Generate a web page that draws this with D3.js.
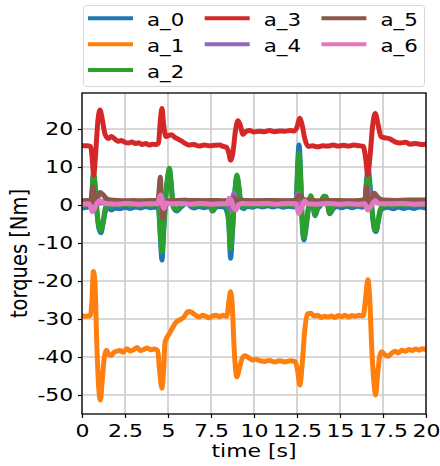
<!DOCTYPE html>
<html>
<head>
<meta charset="utf-8">
<script src="https://cdn.jsdelivr.net/npm/d3@7"></script>
<style>
    body { margin: 0; background: #fff; }
    svg { display: block; font-family: "DejaVu Sans", sans-serif; }
</style>
</head>
<body>
<svg id="chart" width="440" height="466"></svg>
<script>
/**
 * Data: [time s, torque Nm].
 */
const seriesNames = ['a_0', 'a_1', 'a_2', 'a_3', 'a_4', 'a_5', 'a_6'];
const seriesColors = ['#1f77b4', '#ff7f0e', '#2ca02c', '#d62728', '#9467bd', '#8c564b', '#e377c2'];
const xTicks = [0, 2.5, 5, 7.5, 10, 12.5, 15, 17.5, 20];
const yTicks = [-50, -40, -30, -20, -10, 0, 10, 20];

const a0 = [[0,-0.8],[0.3,-0.6],[0.5,-0.4],[0.58,3],[0.66,8],[0.75,5.5],[0.88,-2.5],[1.0,-6.5],[1.1,-7.3],[1.2,-5.5],[1.35,-1.8],[1.55,-0.5],[1.7,-1.3],[1.9,-0.8],[2.2,-1],[2.5,-0.6],[2.8,-0.9],[3.1,-0.5],[3.4,-0.8],[3.7,-0.4],[4.0,-0.7],[4.3,-0.5],[4.45,-1],[4.55,-8],[4.65,-14.5],[4.75,-7],[4.88,2.5],[5.0,7.8],[5.08,9.5],[5.18,5.5],[5.3,-0.5],[5.5,-1.6],[5.7,-0.8],[5.9,0],[6.1,0.6],[6.3,-0.3],[6.5,-0.8],[6.8,-0.4],[7.1,-0.7],[7.4,-0.3],[7.6,-1.6],[7.8,-0.5],[8.0,-0.4],[8.3,-0.6],[8.52,-4],[8.64,-14],[8.75,-7],[8.88,2.5],[9.0,7.5],[9.12,4.5],[9.25,-0.5],[9.4,-1],[9.6,-0.3],[9.9,-0.6],[10.2,-0.2],[10.5,-0.5],[10.8,-0.2],[11.1,-0.5],[11.4,-0.2],[11.7,-0.6],[12.0,-0.3],[12.3,-0.5],[12.45,0.5],[12.55,12],[12.62,15.8],[12.72,7],[12.8,-4.5],[12.9,-9.2],[13.0,-7],[13.15,-1.5],[13.3,2],[13.42,0],[13.55,-2.8],[13.7,-1],[13.85,-0.2],[14.05,1.8],[14.2,1.6],[14.4,-2.3],[14.6,-1],[14.8,-0.4],[15.1,-0.7],[15.4,-0.3],[15.7,-0.7],[16.0,-0.3],[16.3,-0.6],[16.45,1],[16.55,7],[16.65,9.3],[16.75,5],[16.88,-2.5],[17.0,-6.5],[17.1,-7],[17.22,-4.5],[17.35,-1.5],[17.5,-0.9],[17.8,-0.6],[18.1,-1],[18.4,-0.5],[18.7,-0.9],[19.0,-0.6],[19.3,-0.9],[19.6,-0.5],[20,-0.8]];

const a1 = [[0,-29.2],[0.3,-29.3],[0.5,-29],[0.58,-25],[0.66,-17.5],[0.75,-20],[0.85,-35],[0.97,-48],[1.07,-51.3],[1.18,-46],[1.3,-40],[1.42,-38.2],[1.55,-39.3],[1.7,-39.6],[1.85,-38.8],[2.0,-38.5],[2.2,-38.3],[2.4,-38.7],[2.6,-37.8],[2.8,-38.4],[3.0,-38.1],[3.2,-37.5],[3.4,-38.3],[3.6,-38],[3.8,-37.6],[4.0,-38.1],[4.2,-37.9],[4.4,-38.3],[4.52,-44],[4.65,-48.2],[4.75,-43],[4.83,-36],[5.1,-33.7],[5.3,-32],[5.5,-30.7],[5.7,-30.2],[5.9,-29.6],[6.18,-28],[6.4,-28.3],[6.6,-29],[6.8,-29.5],[7.0,-29],[7.2,-29.3],[7.4,-29.7],[7.6,-29.2],[7.8,-29],[8.0,-29.4],[8.2,-29],[8.42,-29.3],[8.55,-25],[8.64,-22.8],[8.73,-26],[8.85,-38],[9.0,-45.2],[9.15,-43],[9.3,-40.5],[9.48,-39.7],[9.7,-40.2],[9.9,-40.8],[10.1,-40.6],[10.3,-40.9],[10.6,-41.2],[10.9,-40.9],[11.2,-41.3],[11.5,-41],[11.8,-41.3],[12.1,-41],[12.4,-41.2],[12.55,-44],[12.67,-47.4],[12.8,-42],[12.95,-33],[13.1,-28.7],[13.3,-28.5],[13.5,-29.2],[13.7,-29],[13.9,-29.6],[14.1,-29.3],[14.3,-29.5],[14.5,-29.2],[14.7,-29.6],[14.9,-29.1],[15.1,-29.4],[15.3,-29],[15.5,-29.5],[15.7,-29.1],[15.9,-29.3],[16.1,-29],[16.35,-29.2],[16.5,-24],[16.62,-19.7],[16.72,-24],[16.85,-38],[17.0,-48],[17.07,-50],[17.18,-45],[17.3,-40],[17.42,-38.6],[17.6,-39.4],[17.8,-39.8],[18.0,-39],[18.2,-38.5],[18.4,-38.9],[18.6,-38.2],[18.8,-38.5],[19.0,-38],[19.2,-38.3],[19.4,-37.9],[19.6,-38.2],[19.8,-37.8],[20,-38]];

const a2 = [[0,-0.3],[0.3,0],[0.5,0.2],[0.58,3],[0.66,8.5],[0.75,6],[0.88,-2],[1.0,-6],[1.1,-6.7],[1.2,-5],[1.35,-1],[1.5,0.8],[1.7,-0.5],[1.9,0.3],[2.2,-0.2],[2.5,0.3],[2.8,-0.2],[3.1,0.2],[3.4,-0.3],[3.7,0.2],[4.0,-0.2],[4.3,0.2],[4.45,-0.5],[4.55,-7],[4.65,-12.3],[4.75,-6],[4.88,3],[5.0,8],[5.08,9.7],[5.18,6],[5.3,0],[5.5,-1.3],[5.7,-0.5],[5.9,0.5],[6.1,1.2],[6.3,0.3],[6.5,-0.3],[6.8,0.2],[7.1,-0.3],[7.4,0.2],[7.6,-1.5],[7.8,0],[8.1,0.2],[8.4,-0.2],[8.52,-3],[8.64,-11.4],[8.75,-6],[8.88,3],[9.0,7.9],[9.12,5],[9.25,0],[9.4,-0.6],[9.6,0.3],[9.9,-0.3],[10.2,0.2],[10.5,-0.3],[10.8,0.2],[11.1,-0.2],[11.4,0.2],[11.7,-0.3],[12.0,0.2],[12.3,-0.2],[12.45,0.5],[12.55,10],[12.62,13.6],[12.72,6],[12.8,-4],[12.9,-8.5],[13.0,-6],[13.15,-1],[13.3,2.4],[13.42,0.5],[13.55,-2.6],[13.7,-0.5],[13.85,0.3],[14.05,2.3],[14.2,2.2],[14.4,-2],[14.6,-0.5],[14.8,0.3],[15.1,-0.2],[15.4,0.2],[15.7,-0.3],[16.0,0.2],[16.3,-0.2],[16.45,1],[16.55,6],[16.65,7.5],[16.75,4],[16.88,-2],[17.0,-6],[17.1,-6.6],[17.22,-4],[17.35,-1],[17.5,-0.5],[17.8,0.2],[18.1,-0.3],[18.4,0.2],[18.7,-0.2],[19.0,0.3],[19.3,-0.2],[19.6,0.2],[20,0]];

const a3 = [[0,15.6],[0.3,15.6],[0.5,15.4],[0.58,13],[0.68,7.9],[0.8,14],[0.92,22],[1.05,25],[1.18,22.5],[1.35,18.5],[1.55,17.5],[1.7,18],[1.9,17.4],[2.1,16.8],[2.3,17],[2.5,16.5],[2.7,16.3],[2.9,16.6],[3.1,16.2],[3.3,16.4],[3.5,15.9],[3.7,16.2],[3.9,15.8],[4.1,16],[4.3,15.9],[4.45,16.3],[4.55,22],[4.65,25.4],[4.75,21],[4.88,18],[5.0,18.2],[5.2,18.5],[5.4,17.8],[5.6,17.3],[5.8,16.8],[6.0,16.2],[6.2,15.8],[6.5,15.9],[6.8,15.5],[7.1,15.8],[7.4,15.6],[7.7,15.7],[8.0,15.8],[8.2,15.4],[8.4,15.2],[8.52,14],[8.64,11.8],[8.78,14],[8.92,19.5],[9.07,22.2],[9.2,21],[9.36,18.6],[9.55,19.4],[9.75,19.6],[10.0,19.2],[10.3,19.4],[10.6,19.3],[10.9,19.6],[11.2,19.3],[11.5,19.5],[11.8,19.4],[12.1,19.6],[12.35,19.5],[12.5,20.5],[12.65,22.8],[12.8,21],[12.95,17.5],[13.15,15.4],[13.4,15.6],[13.7,15.3],[14.0,15.6],[14.3,15.5],[14.6,15.8],[14.9,15.5],[15.2,15.7],[15.5,15.5],[15.8,15.8],[16.1,15.6],[16.35,15.4],[16.5,12],[16.61,7.9],[16.75,13],[16.9,21],[17.05,24.1],[17.2,21.5],[17.38,18],[17.6,17.7],[17.9,17.4],[18.2,16.6],[18.5,16.3],[18.8,16.5],[19.1,16],[19.4,16.2],[19.7,15.9],[20,16]];

const a4 = [[0,1],[0.3,0.9],[0.5,1],[0.6,3],[0.7,-1],[0.85,1.5],[1.0,0.5],[1.3,1],[1.8,0.8],[2.5,1],[3.2,0.8],[3.9,1.1],[4.4,1],[4.5,2.5],[4.62,-1.5],[4.75,1.5],[4.9,0.8],[5.2,1],[5.6,1.2],[6.0,1.3],[6.5,1],[7.0,1.1],[7.6,0.9],[8.1,1],[8.4,1],[8.55,0],[8.68,-1.3],[8.83,3.1],[8.95,1.5],[9.1,1],[9.6,0.9],[10.2,1.1],[10.8,0.9],[11.4,1.1],[12.0,1],[12.4,1.2],[12.5,2.5],[12.6,3],[12.72,-0.5],[12.85,1.5],[13.0,1],[13.6,0.9],[14.2,1.1],[14.8,0.9],[15.4,1],[16.0,0.9],[16.4,1],[16.55,3],[16.65,4.4],[16.75,0],[16.9,1.5],[17.1,1],[17.7,0.9],[18.4,1],[19.2,0.9],[20,1]];

const a5 = [[0,1.1],[0.3,1.2],[0.5,1],[0.58,3],[0.64,4.8],[0.72,1],[0.8,-0.5],[0.9,1.5],[1.05,3.3],[1.2,2.8],[1.4,1.8],[1.7,1.3],[2.0,1.2],[2.5,1.1],[3.0,1.2],[3.5,1.1],[4.0,1.2],[4.42,1.2],[4.5,5],[4.55,7.3],[4.62,2],[4.7,-3.5],[4.8,-1],[4.95,1],[5.2,1.2],[5.8,1.1],[6.4,1.2],[7.0,1.1],[7.6,1.2],[8.2,1.1],[8.55,1.2],[8.76,1.9],[9.0,1.3],[9.5,1.2],[10.2,1.1],[10.9,1.2],[11.6,1.1],[12.3,1.2],[12.5,1.5],[12.6,2.5],[12.75,2.2],[12.9,1.4],[13.4,1.2],[14.0,1.1],[14.7,1.2],[15.4,1.1],[16.1,1.2],[16.45,1.5],[16.55,4.8],[16.65,0.5],[16.8,1.5],[17.0,3.1],[17.2,2],[17.5,1.3],[18.2,1.2],[19.0,1.3],[20,1.3]];

const a6 = [[0,0.2],[0.4,0.3],[0.5,-0.5],[0.6,-1.8],[0.72,-1],[0.85,0.3],[1.05,1.2],[1.25,0.5],[1.5,0.3],[2.0,0.2],[2.6,0.4],[3.2,0.2],[3.8,0.3],[4.4,0.3],[4.5,2],[4.58,2.6],[4.68,0],[4.76,-0.9],[4.9,0.5],[5.1,0.3],[5.7,0.4],[6.3,0.2],[6.9,0.4],[7.5,0.2],[8.1,0.3],[8.45,0.3],[8.55,1.8],[8.65,1.5],[8.8,-0.5],[8.95,-1.3],[9.1,0],[9.3,0.4],[9.9,0.3],[10.6,0.4],[11.3,0.2],[12.0,0.4],[12.45,0.3],[12.6,-2.2],[12.75,-1],[12.95,1.1],[13.1,0.3],[13.7,0.2],[14.3,0.4],[14.9,0.2],[15.5,0.3],[16.1,0.2],[16.45,0.3],[16.6,-1.3],[16.8,-0.3],[17.05,1.1],[17.25,0.4],[17.9,0.3],[18.6,0.4],[19.3,0.2],[20,0.3]];

const series = [a0, a1, a2, a3, a4, a5, a6];

/**
 * Visual configs.
 */
const plot = { left: 82, right: 426, top: 93, bottom: 414 },
    fontSize = 18,
    textStretch = 1.22, // The picture is wider than tall, so glyphs are stretched sideways
    lineWidth = 5;

const svg = d3.select('#chart');

/**
 * Scales.
 */
const xScale = d3.scaleLinear().domain([0, 20]).range([plot.left, plot.right]);
const yScale = d3.scaleLinear().domain([-55, 29.47]).range([plot.bottom, plot.top]);

// Grid
const grid = svg.append('g').attr('class', 'grid')
    .attr('stroke', '#cbcbcb')
    .attr('stroke-width', 1.6);
grid.selectAll('.gx').data(xTicks).enter().append('line')
    .attr('x1', d => xScale(d)).attr('x2', d => xScale(d))
    .attr('y1', plot.top).attr('y2', plot.bottom);
grid.selectAll('.gy').data(yTicks).enter().append('line')
    .attr('x1', plot.left).attr('x2', plot.right)
    .attr('y1', d => yScale(d)).attr('y2', d => yScale(d));

// Lines
svg.append('clipPath').attr('id', 'clip')
    .append('rect')
    .attr('x', plot.left).attr('y', plot.top)
    .attr('width', plot.right - plot.left).attr('height', plot.bottom - plot.top);

const line = d3.line()
    .x(d => xScale(d[0]))
    .y(d => yScale(d[1]))
    .curve(d3.curveMonotoneX);

svg.append('g').attr('clip-path', 'url(#clip)')
    .selectAll('path').data(series).enter().append('path')
    .attr('d', line)
    .attr('fill', 'none')
    .attr('stroke', (d, i) => seriesColors[i])
    .attr('stroke-width', lineWidth)
    .attr('stroke-linejoin', 'round')
    .attr('stroke-linecap', 'round');

/**
 * Axes.
 */
const xAxis = svg.append('g')
    .attr('transform', 'translate(0,' + plot.bottom + ')')
    .call(d3.axisBottom(xScale).tickValues(xTicks).tickFormat(d3.format('~g')).tickSizeInner(4).tickSizeOuter(0).tickPadding(6.5));
const yAxis = svg.append('g')
    .attr('transform', 'translate(' + plot.left + ',0)')
    .call(d3.axisLeft(yScale).tickValues(yTicks).tickFormat(d => String(d)).tickSizeInner(4).tickSizeOuter(0).tickPadding(3.2));

[xAxis, yAxis].forEach(a => {
    a.select('.domain').remove();
    a.selectAll('line').attr('stroke', '#000').attr('stroke-width', 1.2);
    a.selectAll('text')
        .attr('fill', '#000')
        .attr('font-family', '"DejaVu Sans", sans-serif')
        .attr('font-size', fontSize)
        .attr('transform', 'scale(' + textStretch + ',1)');
});

// Frame
svg.append('rect')
    .attr('x', plot.left).attr('y', plot.top)
    .attr('width', plot.right - plot.left).attr('height', plot.bottom - plot.top)
    .attr('fill', 'none')
    .attr('stroke', '#000')
    .attr('stroke-width', 1.3);

// Axis titles
svg.append('text')
    .attr('transform', 'translate(' + (plot.left + plot.right) / 2 + ',457) scale(' + textStretch + ',1)')
    .attr('text-anchor', 'middle')
    .attr('font-size', fontSize)
    .text('time [s]');

svg.append('text')
    .attr('transform', 'translate(27,' + (plot.top + plot.bottom) / 2 + ') rotate(-90) scale(1,1.15)')
    .attr('text-anchor', 'middle')
    .attr('font-size', 19.5)
    .text('torques [Nm]');

/**
 * Legend: three columns, filled column by column.
 */
const legend = svg.append('g').attr('class', 'legend');
legend.append('rect')
    .attr('x', 83.5).attr('y', 5.5)
    .attr('width', 341).attr('height', 81)
    .attr('rx', 3)
    .attr('fill', '#fff')
    .attr('fill-opacity', 0.8)
    .attr('stroke', '#d6d6d6')
    .attr('stroke-width', 1);

const legendCols = [0, 0, 0, 1, 1, 2, 2],
    legendRows = [0, 1, 2, 0, 1, 0, 1];

const entries = legend.selectAll('.entry').data(seriesNames).enter().append('g')
    .attr('class', 'entry')
    .attr('transform', (d, i) => 'translate(' + (88 + legendCols[i] * 116.7) + ',' + (18.3 + legendRows[i] * 25.9) + ')');
entries.append('line')
    .attr('x1', 0).attr('x2', 45)
    .attr('stroke', (d, i) => seriesColors[i])
    .attr('stroke-width', 4);
entries.append('text')
    .attr('transform', 'translate(59,7.5) scale(' + textStretch + ',1)')
    .attr('font-size', 17.5)
    .text(d => d);
</script>
</body>
</html>
